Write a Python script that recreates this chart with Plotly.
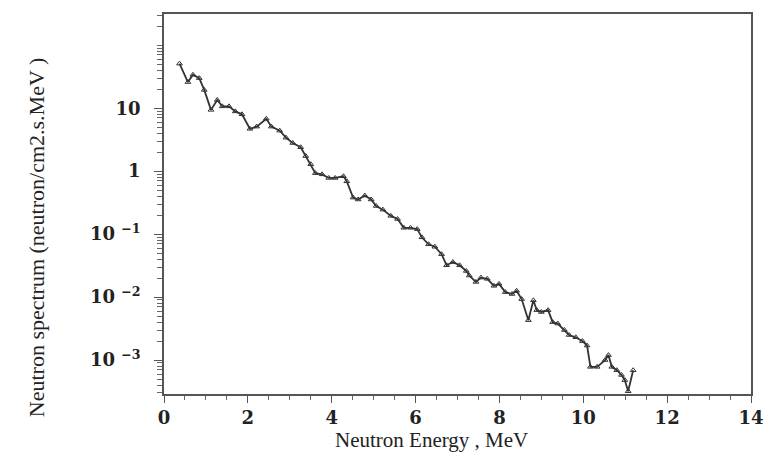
import plotly.graph_objects as go

energy_mev = [0.37, 0.57, 0.69, 0.84, 0.96, 1.12, 1.27, 1.39, 1.55, 1.70, 1.86, 2.05, 2.21, 2.44, 2.56,
              2.76, 2.91, 3.07, 3.26, 3.38, 3.50, 3.61, 3.77, 3.93, 4.08, 4.28, 4.36, 4.51, 4.63, 4.79,
              4.94, 5.06, 5.22, 5.41, 5.57, 5.72, 5.88, 6.04, 6.15, 6.31, 6.46, 6.62, 6.74, 6.89, 7.05,
              7.21, 7.28, 7.44, 7.56, 7.71, 7.87, 7.99, 8.14, 8.30, 8.41, 8.53, 8.69, 8.81, 8.89, 9.00,
              9.16, 9.27, 9.39, 9.55, 9.66, 9.82, 9.98, 10.09, 10.17, 10.33, 10.52, 10.60, 10.68, 10.80,
              10.91, 10.99, 11.07, 11.19]
spectrum = [51, 26, 34, 30, 19.5, 9.4, 13.5, 10.7, 10.7, 8.9, 8.0, 4.7, 5.1, 6.8, 5.1,
            4.4, 3.4, 2.8, 2.4, 1.74, 1.29, 0.93, 0.89, 0.78, 0.78, 0.83, 0.69, 0.38, 0.355, 0.41,
            0.355, 0.28, 0.245, 0.195, 0.174, 0.126, 0.126, 0.12, 0.089, 0.069, 0.063, 0.048, 0.032, 0.036, 0.032,
            0.026, 0.022, 0.0174, 0.0204, 0.0195, 0.0151, 0.0162, 0.012, 0.0112, 0.0126, 0.0093, 0.0043, 0.0089, 0.0062, 0.0058,
            0.0062, 0.004, 0.0038, 0.003, 0.0025, 0.0023, 0.002, 0.0017, 0.00078, 0.00078, 0.001, 0.0012, 0.00078, 0.00069,
            0.00058, 0.00048, 0.00032, 0.00069]

x_tickvals = [0, 2, 4, 6, 8, 10, 12, 14]
y_tickvals = [1e-3, 1e-2, 1e-1, 1, 10]
y_ticktext = ["10 <sup>\u22123</sup>", "10 <sup>\u22122</sup>", "10 <sup>\u22121</sup>", "1", "10"]

fig = go.Figure()
fig.add_trace(go.Scatter(
    x=energy_mev, y=spectrum, mode="lines+markers",
    line=dict(color="#333333", width=1.8),
    marker=dict(symbol="triangle-up-open", size=5, color="#333333", line=dict(width=1)),
    showlegend=False,
))

axis_font = dict(family="DejaVu Serif", size=18, color="#222222", weight="bold")

fig.update_layout(
    width=776, height=457,
    margin=dict(l=164, r=14, t=12, b=63),
    paper_bgcolor="white", plot_bgcolor="white",
    xaxis=dict(
        range=[0, 14], tickvals=x_tickvals, ticks="outside", ticklen=7, tickwidth=1.2,
        tickcolor="#555555", showline=True, linecolor="#555555", linewidth=1.5, mirror=True,
        showgrid=False, zeroline=False, tickfont=axis_font,
        minor=dict(dtick=0.5, ticks="outside", ticklen=4, tickcolor="#666666", showgrid=False),
    ),
    yaxis=dict(
        type="log", range=[-3.539, 2.496], tickvals=y_tickvals, ticktext=y_ticktext,
        ticks="outside", ticklen=8, tickwidth=1.2, tickcolor="#555555",
        showline=True, linecolor="#555555", linewidth=1.5, mirror=True,
        showgrid=False, zeroline=False, tickfont=axis_font, ticklabelstandoff=10,
        minor=dict(dtick="D1", ticks="outside", ticklen=5, tickcolor="#666666", showgrid=False),
    ),
    annotations=[
        dict(text="Neutron Energy , MeV", xref="paper", yref="paper", x=0.4565, y=-0.12,
             xanchor="center", yanchor="middle", showarrow=False,
             font=dict(family="Liberation Serif", size=21, color="#222222")),
        dict(text="Neutron spectrum (neutron/cm2.s.MeV )", xref="paper", yref="paper",
             x=-(164 - 34) / 598, y=(394 - 237) / 382, textangle=-90,
             xanchor="center", yanchor="middle", showarrow=False,
             font=dict(family="Liberation Serif", size=22, color="#222222")),
    ],
)

fig.write_html("out.html")
